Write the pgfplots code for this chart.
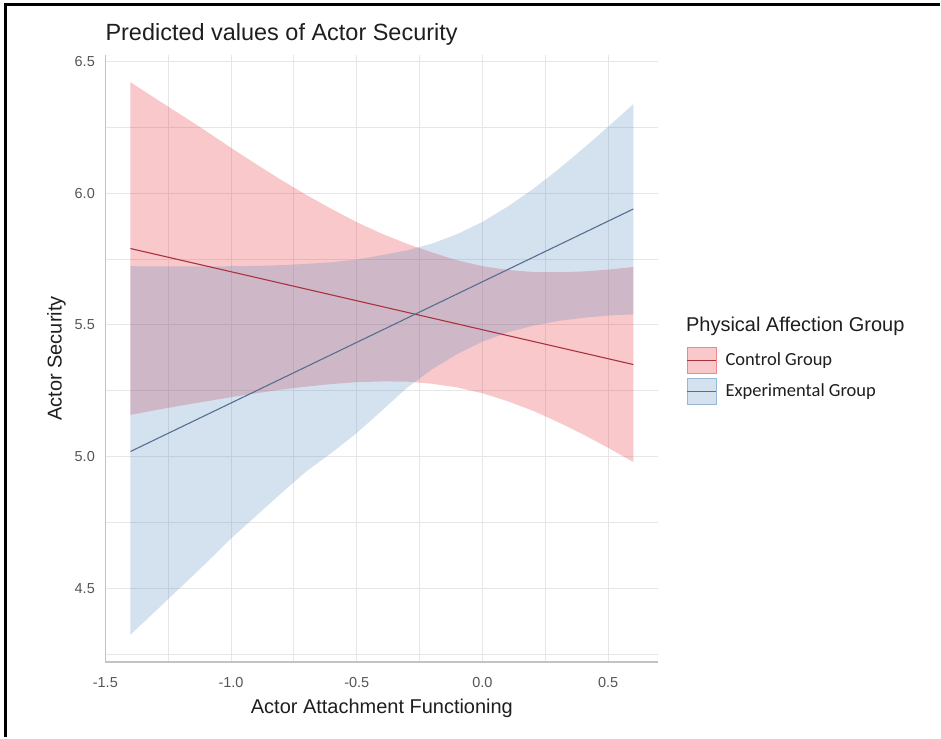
\documentclass[border=0pt]{standalone}
\usepackage{pgfplots}
\pgfplotsset{compat=1.18}
\usepackage{pgfplotstable}
\usepgfplotslibrary{fillbetween}
\usepackage{fontspec}
\setmainfont{Liberation Sans}
\newfontfamily\carlito{Carlito}

\definecolor{redbase}{RGB}{227,35,43}
\definecolor{bluebase}{RGB}{83,135,187}
\definecolor{redline}{RGB}{170,50,62}
\definecolor{blueline}{RGB}{85,110,145}
\definecolor{gridc}{RGB}{230,230,230}
\definecolor{axisc}{RGB}{195,195,195}
\definecolor{tickc}{RGB}{85,85,85}
\definecolor{textc}{RGB}{30,30,30}

% Control Group: x, predicted, lower CI, upper CI
\pgfplotstableread{
x fit lo hi
-1.4 5.790 5.159 6.421
-1.3 5.768 5.177 6.359
-1.2 5.746 5.194 6.298
-1.1 5.724 5.210 6.236
-1.0 5.702 5.226 6.172
-0.9 5.680 5.241 6.110
-0.8 5.658 5.255 6.050
-0.7 5.636 5.266 5.993
-0.6 5.614 5.276 5.940
-0.5 5.592 5.283 5.890
-0.4 5.570 5.286 5.846
-0.3 5.548 5.285 5.808
-0.2 5.526 5.277 5.775
-0.1 5.504 5.263 5.745
0.0 5.482 5.241 5.723
0.1 5.460 5.211 5.709
0.2 5.438 5.175 5.701
0.3 5.416 5.132 5.700
0.4 5.394 5.085 5.703
0.5 5.372 5.034 5.710
0.6 5.350 4.980 5.720
}\ctrl

% Experimental Group: x, predicted, lower CI, upper CI
\pgfplotstableread{
x fit lo hi
-1.4 5.020 4.325 5.723
-1.3 5.066 4.415 5.722
-1.2 5.112 4.505 5.722
-1.1 5.158 4.596 5.722
-1.0 5.204 4.690 5.723
-0.9 5.250 4.776 5.724
-0.8 5.296 4.862 5.727
-0.7 5.342 4.945 5.732
-0.6 5.388 5.015 5.738
-0.5 5.434 5.090 5.748
-0.4 5.480 5.175 5.765
-0.3 5.526 5.262 5.783
-0.2 5.572 5.332 5.809
-0.1 5.618 5.390 5.845
0.0 5.664 5.437 5.891
0.1 5.710 5.472 5.949
0.2 5.756 5.497 6.015
0.3 5.802 5.515 6.089
0.4 5.848 5.527 6.169
0.5 5.894 5.536 6.252
0.6 5.940 5.540 6.338
}\expt

\begin{document}
\begin{tikzpicture}
\path (0pt,0pt) rectangle (941pt,738pt);
\begin{axis}[
  at={(105.5pt,75pt)}, anchor=south west,
  scale only axis, width=554pt, height=608pt,
  xmin=-1.5, xmax=0.7, ymin=4.2216, ymax=6.5246,
  axis lines*=left,
  axis line style={axisc, line width=1.3pt},
  xtick={-1.5,-1.0,-0.5,0.0,0.5},
  xticklabels={-1.5,-1.0,-0.5,0.0,0.5},
  minor xtick={-1.25,-0.75,-0.25,0.25},
  ytick={4.5,5.0,5.5,6.0,6.5},
  yticklabels={4.5,5.0,5.5,6.0,6.5},
  minor ytick={4.25,4.75,5.25,5.75,6.25},
  major tick length=0pt, minor tick length=0pt,
  grid=both,
  major grid style={gridc, line width=1pt},
  minor grid style={gridc, line width=1pt},
  tick label style={font=\fontsize{14.5}{16}\selectfont, text=tickc},
  xticklabel style={yshift=-12pt},
  yticklabel style={xshift=-7pt},
  title={Predicted values of Actor Security},
  title style={at={(axis description cs:0,1)}, anchor=base west, inner sep=0pt, yshift=8pt, font=\fontsize{23.5}{26}\selectfont, text=textc},
  xlabel={Actor Attachment Functioning},
  xlabel style={at={(axis description cs:0.5,0)}, anchor=base, inner sep=0pt, yshift=-52pt, font=\fontsize{20}{22}\selectfont, text=textc},
  ylabel={Actor Security},
  ylabel style={at={(axis description cs:-0.0884,0.5)}, anchor=center, inner sep=0pt, font=\fontsize{20}{22}\selectfont, text=textc},
  legend cell align=left,
  legend style={at={(axis description cs:1.0505,0.5197)}, anchor=north west, draw=none, fill=none, inner sep=0pt, row sep=4pt,
    font=\carlito\fontsize{18.5}{20}\selectfont, text=textc,
    /tikz/every odd column/.append style={column sep=7pt}},
]
\addplot[name path=rhi, draw=none, forget plot] table[x=x, y=hi] {\ctrl};
\addplot[name path=rlo, draw=none, forget plot] table[x=x, y=lo] {\ctrl};
\addplot[fill=redbase, fill opacity=0.25, draw=none, forget plot] fill between[of=rhi and rlo];
\addplot[name path=bhi, draw=none, forget plot] table[x=x, y=hi] {\expt};
\addplot[name path=blo, draw=none, forget plot] table[x=x, y=lo] {\expt};
\addplot[fill=bluebase, fill opacity=0.25, draw=none, forget plot] fill between[of=bhi and blo];

\addplot[redline, line width=1.1pt, no marks,
  legend image code/.code={
    \draw[draw=redbase!55, fill=redbase!25, line width=1pt] (0pt,-13pt) rectangle (29pt,13pt);
    \draw[redline, line width=1.1pt] (0pt,0pt) -- (29pt,0pt);}]
  table[x=x, y=fit] {\ctrl};
\addlegendentry{Control Group}
\addplot[blueline, line width=1.1pt, no marks,
  legend image code/.code={
    \draw[draw=bluebase!60, fill=bluebase!25, line width=1pt] (0pt,-13pt) rectangle (29pt,13pt);
    \draw[blueline, line width=1.1pt] (0pt,0pt) -- (29pt,0pt);}]
  table[x=x, y=fit] {\expt};
\addlegendentry{Experimental Group}
\end{axis}
\node[anchor=base west, inner sep=0pt, font=\fontsize{20}{22}\selectfont, text=textc] at (687pt,406pt) {Physical Affection Group};
\draw[line width=3pt] (5.5pt,0pt) -- (5.5pt,733pt) -- (941pt,733pt);
\end{tikzpicture}
\end{document}
